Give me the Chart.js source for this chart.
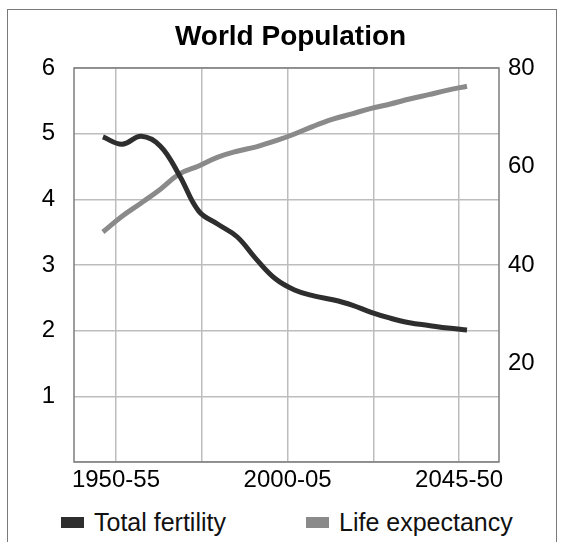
<!DOCTYPE html>
<html>
<head>
<meta charset="utf-8">
<script src="https://cdn.jsdelivr.net/npm/chart.js@4.4.0/dist/chart.umd.min.js"></script>
<style>
html,body{margin:0;padding:0;background:#fff;}
#wrap{position:relative;width:561px;height:542px;overflow:hidden;font-family:"Liberation Sans",Arial,sans-serif;}
#frame{position:absolute;left:7px;top:9px;width:550px;height:600px;border:1.5px solid #7a7a7a;box-sizing:border-box;}
#c{position:absolute;left:0;top:0;}
#legend{position:absolute;left:61px;top:508px;display:flex;align-items:center;font-size:25px;line-height:28px;color:#111;}
#legend .item{display:flex;align-items:center;}
#legend .box{width:23px;height:11px;margin-right:10px;}
</style>
</head>
<body>
<div id="wrap">
  <div id="frame"></div>
  <canvas id="c" width="561" height="500"></canvas>
  <div id="legend"></div>
</div>
<script>
// ---- data ----
const categories = ['1950-55','1955-60','1960-65','1965-70','1970-75','1975-80','1980-85','1985-90','1990-95','1995-00',
                    '2000-05','2005-10','2010-15','2015-20','2020-25','2025-30','2030-35','2035-40','2040-45','2045-50'];
const totalFertility = [4.95,4.84,4.96,4.81,4.36,3.82,3.62,3.43,3.09,2.79,2.62,2.53,2.47,2.39,2.28,2.19,2.12,2.08,2.04,2.01];
const lifeExpectancy = [46.7,49.9,52.6,55.4,58.5,60.1,61.9,63.1,64.0,65.2,66.6,68.2,69.6,70.7,71.8,72.7,73.7,74.6,75.5,76.3];
const xTickLabels = ['1950-55','','2000-05','','2045-50'];
const leftTicks = [1,2,3,4,5,6];
const rightTicks = [20,40,60,80];

const FONT = '"Liberation Sans", Arial, sans-serif';
const DARK = '#2e2e2e';
const GRAY = '#8a8a8a';

// x-axis layout (category index units)
const X_MIN = -1.51, X_MAX = 20.67;
const xTickPos = [0.68, 5.16, 9.64, 14.11, 18.59];

const borderPlugin = {
  id: 'areaBorder',
  afterDatasetsDraw(chart) {
    const a = chart.chartArea, ctx = chart.ctx;
    ctx.save();
    ctx.strokeStyle = '#7d7d7d';
    ctx.lineWidth = 1.5;
    ctx.strokeRect(a.left, a.top, a.right - a.left, a.bottom - a.top);
    ctx.restore();
  }
};

const chart = new Chart(document.getElementById('c'), {
  type: 'line',
  data: {
    datasets: [
      {
        label: 'Total fertility',
        data: totalFertility.map((v, i) => ({x: i, y: v})),
        yAxisID: 'y',
        borderColor: DARK,
        backgroundColor: DARK,
        borderWidth: 5,
        pointRadius: 0,
        tension: 0.4,
        fill: false
      },
      {
        label: 'Life expectancy',
        data: lifeExpectancy.map((v, i) => ({x: i, y: v})),
        yAxisID: 'y1',
        borderColor: GRAY,
        backgroundColor: GRAY,
        borderWidth: 5,
        pointRadius: 0,
        tension: 0.4,
        fill: false
      }
    ]
  },
  options: {
    responsive: false,
    animation: false,
    layout: {padding: {left: 20, right: 0, top: 0, bottom: 0}},
    plugins: {
      legend: {display: false},
      tooltip: {enabled: false},
      title: {
        display: true,
        text: 'World Population',
        color: '#000',
        font: {family: FONT, size: 28, weight: 'bold'},
        padding: {top: 20, bottom: 14.4}
      }
    },
    scales: {
      x: {
        type: 'linear',
        min: X_MIN,
        max: X_MAX,
        afterBuildTicks: s => { s.ticks = xTickPos.map(v => ({value: v})); },
        afterFit: s => { s.height = 38; },
        ticks: {
          autoSkip: false,
          maxRotation: 0,
          padding: 3.6,
          color: '#000',
          font: {family: FONT, size: 24},
          callback: (v, i) => xTickLabels[i]
        },
        grid: {color: '#bdbdbd', lineWidth: 1.5, drawTicks: false},
        border: {display: false}
      },
      y: {
        position: 'left',
        min: 0,
        max: 6,
        afterBuildTicks: s => { s.ticks = [0].concat(leftTicks).map(v => ({value: v})); },
        afterFit: s => { s.width = 54; },
        ticks: {
          padding: 19,
          color: '#000',
          font: {family: FONT, size: 24},
          callback: v => v === 0 ? '' : String(v)
        },
        grid: {color: '#bdbdbd', lineWidth: 1.5, drawTicks: false},
        border: {display: false}
      },
      y1: {
        position: 'right',
        min: 0,
        max: 80,
        afterBuildTicks: s => { s.ticks = [0].concat(rightTicks).map(v => ({value: v})); },
        afterFit: s => { s.width = 62; },
        ticks: {
          padding: 9,
          color: '#000',
          font: {family: FONT, size: 24},
          callback: v => v === 0 ? '' : String(v)
        },
        grid: {display: false, drawTicks: false},
        border: {display: false}
      }
    }
  },
  plugins: [borderPlugin]
});

// HTML legend generated from the chart's own legend items
const legendEl = document.getElementById('legend');
const items = Chart.defaults.plugins.legend.labels.generateLabels(chart);
items.forEach((it, idx) => {
  const d = document.createElement('div');
  d.className = 'item';
  if (idx > 0) d.style.marginLeft = '80px';
  const b = document.createElement('span');
  b.className = 'box';
  b.style.background = it.strokeStyle;
  const t = document.createElement('span');
  t.textContent = it.text;
  d.appendChild(b); d.appendChild(t);
  legendEl.appendChild(d);
});
</script>
</body>
</html>
